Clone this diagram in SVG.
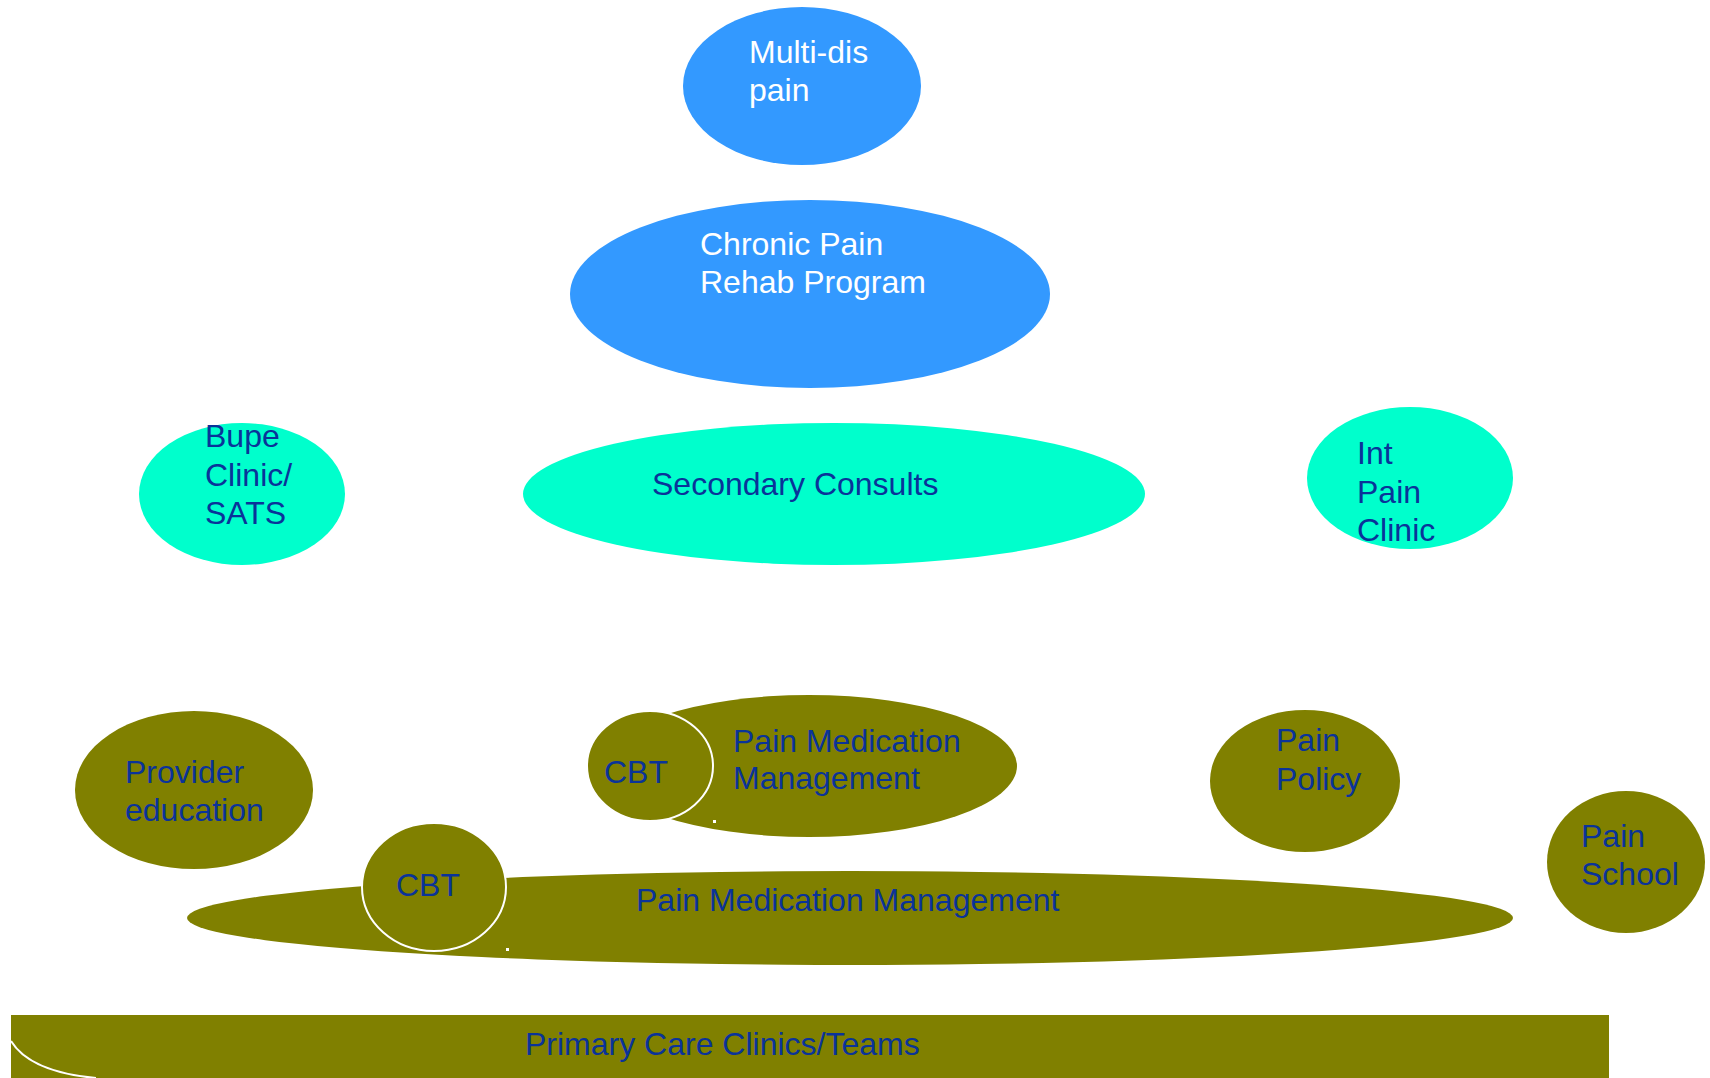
<svg xmlns="http://www.w3.org/2000/svg" width="1710" height="1078" viewBox="0 0 1710 1078">
<style>
text{font-family:"Liberation Sans",Arial,sans-serif;font-size:32px}
.w{fill:#ffffff}
.d{fill:#0a3399}
.blue{fill:#3399ff}
.cyan{fill:#00ffcc}
.olive{fill:#808000}
</style>
<rect width="1710" height="1078" fill="#ffffff"/>
<g id="connectors"></g>
<g id="multidis">
<ellipse class="blue" cx="802" cy="86" rx="119" ry="79"/>
<text class="w" x="749" y="63">Multi-dis</text>
<text class="w" x="749" y="101">pain</text>
</g>
<g id="chronic">
<ellipse class="blue" cx="810" cy="294" rx="240" ry="94"/>
<text class="w" x="700" y="255">Chronic Pain</text>
<text class="w" x="700" y="293">Rehab Program</text>
</g>
<g id="bupe">
<ellipse class="cyan" cx="242" cy="494" rx="103" ry="71"/>
<text class="d" x="205" y="447">Bupe</text>
<text class="d" x="205" y="486">Clinic/</text>
<text class="d" x="205" y="524">SATS</text>
</g>
<g id="secondary">
<ellipse class="cyan" cx="834" cy="494" rx="311" ry="71"/>
<text class="d" x="652" y="495">Secondary Consults</text>
</g>
<g id="intpain">
<ellipse class="cyan" cx="1410" cy="478" rx="103" ry="71"/>
<text class="d" x="1357" y="464">Int</text>
<text class="d" x="1357" y="503">Pain</text>
<text class="d" x="1357" y="541">Clinic</text>
</g>
<g id="provider">
<ellipse class="olive" cx="194" cy="790" rx="119" ry="79"/>
<text class="d" x="125" y="783">Provider</text>
<text class="d" x="125" y="821">education</text>
</g>
<g id="pmm-upper">
<ellipse class="olive" cx="809" cy="766" rx="208" ry="71"/>
<text class="d" x="733" y="752">Pain Medication</text>
<text class="d" x="733" y="789">Management</text>
<rect x="713" y="820" width="3" height="3" fill="#ffffff"/>
</g>
<g id="cbt-upper">
<ellipse class="olive" cx="650" cy="766" rx="63" ry="55" stroke="#ffffff" stroke-width="2"/>
<text class="d" x="604" y="783">CBT</text>
</g>
<g id="policy">
<ellipse class="olive" cx="1305" cy="781" rx="95" ry="71"/>
<text class="d" x="1276" y="751">Pain</text>
<text class="d" x="1276" y="790">Policy</text>
</g>
<g id="school">
<ellipse class="olive" cx="1626" cy="862" rx="79" ry="71"/>
<text class="d" x="1581" y="847">Pain</text>
<text class="d" x="1581" y="885">School</text>
</g>
<g id="pmm-lower">
<ellipse class="olive" cx="850" cy="918" rx="663" ry="47"/>
<text class="d" x="636" y="911">Pain Medication Management</text>
<rect x="506" y="948" width="3" height="3" fill="#ffffff"/>
</g>
<g id="cbt-lower">
<ellipse class="olive" cx="434" cy="887" rx="72" ry="64" stroke="#ffffff" stroke-width="2"/>
<text class="d" x="396" y="896">CBT</text>
</g>
<g id="primary">
<rect class="olive" x="11" y="1015" width="1598" height="63"/>
<path d="M11 1041 Q 30 1072 96 1078" fill="none" stroke="#ffffff" stroke-width="2"/>
<text class="d" x="525" y="1055">Primary Care Clinics/Teams</text>
</g>
</svg>
